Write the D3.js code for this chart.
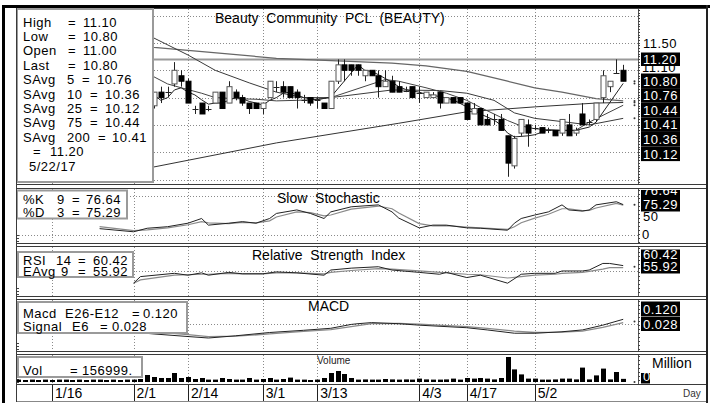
<!DOCTYPE html>
<html><head><meta charset="utf-8">
<script src="https://cdn.jsdelivr.net/npm/d3@7"></script>
<style>
html,body{margin:0;padding:0;background:#fff;}
svg{display:block;font-family:"Liberation Sans",Arial,sans-serif;}
text{white-space:pre;}
</style></head><body>
<svg id="c" width="713" height="405"></svg>
<script>
// ---------- DATA ----------
const dates = ["1/9","1/10","1/11","1/12","1/13","1/16","1/17","1/18","1/19","1/20","1/23","1/24","1/25","1/26","1/27","1/30","1/31",
"2/1","2/2","2/3","2/6","2/7","2/8","2/9","2/10","2/14","2/15","2/16","2/17","2/20","2/21","2/22","2/23","2/24","2/27","2/28",
"3/1","3/2","3/3","3/6","3/7","3/8","3/9","3/10","3/13","3/14","3/15","3/16","3/17","3/20","3/21","3/22","3/23","3/24","3/27","3/28","3/29","3/30","3/31",
"4/3","4/4","4/5","4/7","4/10","4/11","4/12","4/17","4/18","4/19","4/20","4/21","4/24","4/25","4/26","4/27","4/28",
"5/2","5/3","5/4","5/8","5/9","5/10","5/11","5/12","5/15","5/16","5/17","5/18","5/19","5/22"];
const tickDates = ["1/16","2/1","2/14","3/1","3/13","4/3","4/17","5/2"];

const open = [10.9,10.8,10.7,10.6,10.6,10.5,10.5,10.4,10.4,10.3,10.3,10.2,10.1,10.2,10.3,10.4,10.5,10.5,10.7,10.6,
10.35,10.6,10.6,10.75,10.9,10.8,10.3,10.4,10.3,10.4,
10.6,10.4,10.6,10.5,10.4,10.4,10.3,10.5,10.7,10.7,
10.7,10.6,10.45,10.5,10.45,10.4,10.3,10.8,11.1,11.1,
11.1,10.9,11.0,10.9,10.7,10.8,10.7,10.62,10.7,10.58,
10.5,10.5,10.6,10.4,10.5,10.5,10.4,10.2,10.3,10.1,
10.1,10.1,9.8,9.25,9.85,10.0,9.95,9.95,9.9,9.9,
9.85,10.0,9.85,10.2,10.05,10.1,10.5,10.7,10.95,11.0];
const high = [11.0,10.9,10.8,10.7,10.7,10.6,10.6,10.5,10.5,10.4,10.4,10.3,10.3,10.4,10.5,10.6,10.6,10.8,10.8,10.7,
10.6,10.7,10.7,11.15,11.0,10.85,10.35,10.4,10.35,10.6,
10.6,10.8,10.65,10.55,10.4,10.4,10.4,10.8,10.8,10.8,
10.7,10.65,10.55,10.5,10.5,10.4,10.8,11.2,11.2,11.1,
11.1,11.0,11.0,11.0,11.0,10.9,10.8,10.7,10.7,10.7,
10.6,10.6,10.6,10.5,10.5,10.5,10.4,10.4,10.3,10.2,
10.2,10.2,9.8,9.8,10.1,10.1,10.0,9.95,9.95,9.9,
10.1,10.2,9.95,10.4,10.1,10.4,11.0,10.8,11.2,11.1];
const low = [10.7,10.6,10.5,10.5,10.4,10.4,10.3,10.3,10.2,10.2,10.1,10.0,10.0,10.1,10.2,10.3,10.4,10.5,10.5,10.4,
10.3,10.4,10.5,10.7,10.7,10.4,10.2,10.2,10.25,10.4,
10.3,10.4,10.45,10.35,10.2,10.3,10.2,10.5,10.6,10.5,
10.5,10.3,10.4,10.35,10.3,10.3,10.3,10.75,10.8,10.9,
10.9,10.8,10.9,10.5,10.7,10.6,10.6,10.6,10.5,10.4,
10.5,10.5,10.3,10.4,10.4,10.4,10.1,10.2,10.0,10.0,
10.0,9.9,9.05,9.2,9.8,9.6,9.9,9.85,9.85,9.8,
9.8,9.8,9.8,10.0,10.0,10.05,10.4,10.6,10.95,10.8];
const close = [10.8,10.7,10.6,10.6,10.5,10.5,10.4,10.4,10.3,10.3,10.2,10.1,10.2,10.3,10.4,10.5,10.5,10.7,10.6,10.5,
10.6,10.5,10.6,11.0,10.8,10.4,10.3,10.2,10.3,10.6,
10.3,10.7,10.5,10.4,10.3,10.3,10.4,10.8,10.7,10.6,
10.5,10.5,10.45,10.4,10.45,10.3,10.8,11.1,11.0,11.0,
11.0,11.0,10.9,10.7,10.8,10.6,10.6,10.62,10.5,10.58,
10.6,10.55,10.4,10.5,10.4,10.4,10.1,10.3,10.0,10.0,
10.1,9.9,9.3,9.75,10.1,9.85,9.95,9.85,9.9,9.8,
10.1,9.8,9.9,10.0,10.05,10.4,10.9,10.8,10.95,10.8];
// volume in millions
const volume = [0.12,0.1,0.12,0.1,0.12,0.1,0.12,0.12,0.1,0.12,0.1,0.12,0.12,0.1,0.12,0.1,0.12,0.12,0.15,0.35,
0.25,0.2,0.2,0.45,0.2,0.25,0.15,0.2,0.12,0.12,
0.2,0.15,0.12,0.12,0.2,0.12,0.15,0.2,0.12,0.15,
0.22,0.12,0.12,0.1,0.12,0.2,0.45,0.55,0.4,0.2,
0.12,0.13,0.12,0.12,0.15,0.13,0.12,0.13,0.12,0.17,
0.13,0.12,0.12,0.13,0.17,0.12,0.2,0.17,0.2,0.17,
0.13,0.2,1.25,0.63,0.38,0.17,0.17,0.12,0.12,0.13,
0.17,0.17,0.13,0.72,0.13,0.33,0.67,0.13,0.5,0.157];

// moving averages: [date index, value]
const ma5 = [[19,10.6],[20,10.55],[21,10.45],[22,10.5],[23,10.64],[24,10.68],[25,10.6],[26,10.55],[27,10.46],[28,10.38],[29,10.4],[30,10.4],[31,10.45],[32,10.5],[33,10.48],[34,10.43],[35,10.4],[36,10.36],[37,10.45],[38,10.5],[39,10.58],[40,10.6],[41,10.55],[42,10.5],[44,10.46],[46,10.51],[50,11.1],[51,11.0],[52,10.98],[53,10.92],[54,10.85],[55,10.78],[56,10.7],[57,10.65],[58,10.62],[59,10.6],[60,10.56],[62,10.52],[64,10.46],[66,10.33],[68,10.2],[70,10.09],[71,10.0],[72,9.85],[73,9.78],[75,9.8],[76,9.82],[78,9.91],[80,9.9],[82,9.9],[84,9.96],[85,10.05],[89,10.76]];
const ma10 = [[19,10.95],[20,10.88],[22,10.75],[24,10.68],[27,10.58],[29,10.5],[32,10.48],[35,10.47],[38,10.44],[41,10.45],[43,10.46],[46,10.5],[54,10.83],[56,10.8],[60,10.68],[63,10.58],[66,10.45],[68,10.32],[70,10.2],[72,10.08],[74,9.98],[76,9.93],[79,9.9],[82,9.9],[84,10.05],[89,10.36]];
const ma25 = [[19,11.65],[20,11.59],[25,11.28],[29,11.0],[34,10.77],[38,10.6],[42,10.5],[46,10.5],[55,10.64],[62,10.63],[66,10.58],[70,10.45],[73,10.22],[76,10.12],[80,10.06],[84,10.0],[89,10.12]];
const ma75 = [[19,11.45],[20,11.42],[38,11.22],[55,11.13],[60,11.08],[66,10.98],[72,10.8],[76,10.68],[80,10.6],[85,10.48],[89,10.44]];
const ma200 = [[19,9.2],[20,9.23],[38,9.67],[56,10.03],[66,10.24],[76,10.33],[85,10.4],[89,10.41]];
const refLevel = 11.20;

const stochK = [[12,15],[17,7],[19,16],[22,20],[25,29],[27,41],[28,24],[31,29],[33,33],[35,29],[37,41],[38,54],[41,63],[43,54],[45,41],[46,58],[49,71],[53,76],[55,58],[56,42],[59,17],[61,24],[63,24],[66,17],[68,16],[72,11],[73,29],[74,41],[76,50],[78,58],[80,76],[81,63],[83,60],[84,63],[85,76],[88,84],[89,76.64]];
const stochD = [[12,20],[17,10],[19,12],[22,17],[25,25],[27,33],[28,30],[31,28],[33,31],[35,30],[37,35],[38,45],[41,58],[43,56],[45,48],[46,50],[49,65],[53,73],[55,66],[56,55],[59,28],[61,22],[63,23],[66,19],[68,17],[72,13],[73,20],[74,30],[76,42],[78,52],[80,66],[81,66],[83,61],[84,62],[85,68],[88,80],[89,75.29]];
const rsi = [[17,23],[18,37],[23,44],[25,40],[27,45],[28,40],[31,46],[33,43],[36,43],[38,47],[41,45],[45,40],[46,51],[49,55],[53,58],[55,51],[59,46],[62,42],[63,46],[66,35],[68,40],[72,23],[74,42],[76,44],[79,44],[80,49],[83,49],[84,51],[86,65],[87,65],[89,60.42]];
const rsiAvg = [[17,23],[18,30],[23,40],[25,41],[27,42],[28,42],[31,44],[33,43],[36,43],[38,45],[41,45],[45,43],[46,46],[49,50],[53,54],[55,53],[59,49],[62,46],[63,45],[66,42],[68,41],[72,34],[74,37],[76,40],[79,42],[80,44],[83,46],[84,48],[86,53],[87,56],[89,55.92]];
const macd = [[15,-0.2],[20,-0.28],[25,-0.35],[28,-0.39],[32,-0.33],[37,-0.24],[42,-0.18],[46,-0.125],[49,-0.02],[50,0.0],[52,0.03],[56,0.0],[59,-0.04],[66,-0.11],[69,-0.17],[73,-0.26],[76,-0.26],[80,-0.22],[83,-0.17],[86,-0.04],[89,0.12]];
const signal = [[15,-0.15],[20,-0.22],[25,-0.3],[28,-0.35],[32,-0.34],[37,-0.28],[42,-0.21],[46,-0.16],[49,-0.08],[50,-0.05],[52,0.0],[56,0.01],[59,-0.01],[66,-0.08],[69,-0.13],[73,-0.2],[76,-0.24],[80,-0.23],[83,-0.2],[86,-0.1],[89,0.028]];

const title = "Beauty  Community  PCL  (BEAUTY)";
const mainLegend = [["High","","=","11.10"],["Low","","=","10.80"],["Open","","=","11.00"],["Last","","=","10.80"],
  ["SAvg","5","=","10.76"],["SAvg","10","=","10.36"],["SAvg","25","=","10.12"],["SAvg","75","=","10.44"],["SAvg","200","=","10.41"],["","","=","11.20"]];
const legendDate = "5/22/17";
const priceAxisLabel = "11.50";
const priceHighLabel = "11.10";
const priceRefLabel = "11.20";
const priceStack = ["10.80","10.76","10.44","10.41","10.36","10.12"];
const markerValues = [10.80,10.76,10.44,10.41,10.36,10.12];

// ---------- LAYOUT ----------
const svg = d3.select("#c");
const XL = 16, XR = 638, XE = 707;
const P = {main:[8,185], stoch:[188,244], rsi:[246,297], macd:[299,352], vol:[354,385]};
const x = d3.scalePoint().domain(dates).range([18, 623.2]);
const xi = i => x(dates[i]);
const yP = d3.scaleLinear().domain([9, 11.5]).range([179.5, 43]);
const yS = d3.scaleLinear().domain([0, 100]).range([234.5, 195.5]);
const yR = d3.scaleLinear().domain([0, 100]).range([294, 247]);
const yM = d3.scaleLinear().domain([0, 0.12]).range([323.7, 319.3]);
const yV = d3.scaleLinear().domain([0, 1]).range([382, 362]);

const defs = svg.append("defs");
Object.entries(P).forEach(([k,[t,b]]) => {
  defs.append("clipPath").attr("id","cp-"+k).append("rect").attr("x",XL).attr("y",t).attr("width",XR-XL).attr("height",b-t);
});
defs.append("clipPath").attr("id","cl-stoch").append("rect").attr("x",XR).attr("y",190).attr("width",XE-XR).attr("height",54);
defs.append("clipPath").attr("id","cl-rsi").append("rect").attr("x",XR).attr("y",249.5).attr("width",XE-XR).attr("height",47);

svg.append("rect").attr("width",713).attr("height",405).attr("fill","#fff");

const FS = 13, LS = 0.5;   // legend / label font
function T(g, px, py, s, o={}) {
  const t = g.append("text").attr("x",px).attr("y",py).text(s)
    .attr("font-size",o.size||FS).attr("fill",o.fill||"#000").attr("text-anchor",o.anchor||"start");
  if (!o.size) t.attr("letter-spacing",LS);
  return t;
}
function L(g, py, parts) {
  const t = g.append("text").attr("y",py).attr("font-size",FS).attr("letter-spacing",LS).attr("fill","#000");
  parts.filter(p=>p[1]!=="").forEach(([px,s])=>t.append("tspan").attr("x",px).text(s));
  return t;
}
const dotted = sel => sel.attr("stroke","#8a8a8a").attr("stroke-width",1).attr("stroke-dasharray","1,2");

// panel frames + gridlines
Object.entries(P).forEach(([k,[t,b]]) => {
  const g = svg.append("g");
  g.append("rect").attr("x",XL+0.5).attr("y",t+0.5).attr("width",XE-XL-1).attr("height",b-t-1)
    .attr("fill","#fff").attr("stroke","#3a3a3a").attr("stroke-width",1);
  g.selectAll("line.v").data(tickDates).join("line")
    .attr("x1",d=>Math.round(x(d))+0.5).attr("x2",d=>Math.round(x(d))+0.5).attr("y1",t+1).attr("y2",b-1).call(dotted);
  g.append("line").attr("x1",XR+0.5).attr("x2",XR+0.5).attr("y1",t+1).attr("y2",b-1).attr("stroke","#555");
  const step = k==="main" ? 2.73 : 4;
  const ticks = d3.range(t+2, b-1, step);
  g.selectAll("line.t").data(ticks).join("line")
    .attr("x1",XR).attr("x2",XR+2).attr("y1",d=>Math.round(d)+0.5).attr("y2",d=>Math.round(d)+0.5).attr("stroke","#444");
  g.selectAll("line.l").data([b-9,b-6,b-3]).join("line")
    .attr("x1",XL).attr("x2",XL+3).attr("y1",d=>d+0.5).attr("y2",d=>d+0.5).attr("stroke","#444");
});

function hgrid(vals, scale, clip) {
  svg.append("g").attr("clip-path",`url(#cp-${clip})`).selectAll("line").data(vals).join("line")
    .attr("x1",XL).attr("x2",XR).attr("y1",d=>Math.round(scale(d))+0.5).attr("y2",d=>Math.round(scale(d))+0.5).call(dotted);
}
hgrid(d3.range(9, 12.01, 0.5), yP, "main");
hgrid([0,100], yS, "stoch");
hgrid([50], yR, "rsi");
hgrid([0], yM, "macd");

// ---------- MAIN PANEL ----------
const gm = svg.append("g").attr("clip-path","url(#cp-main)");
gm.append("line").attr("x1",XL).attr("x2",XR).attr("y1",yP(refLevel)).attr("y2",yP(refLevel))
  .attr("stroke","#9a9a9a").attr("stroke-width",2);
const lineP = d3.line().x(d=>xi(d[0])).y(d=>yP(d[1]));
[[ma200,"#333",1],[ma75,"#666",1.3],[ma25,"#3a3a3a",1],[ma10,"#444",1],[ma5,"#222",1]].forEach(([s,c,w])=>{
  gm.append("path").attr("d",lineP(s)).attr("fill","none").attr("stroke",c).attr("stroke-width",w);
});
const idx = d3.range(dates.length);
gm.selectAll("line.wick").data(idx).join("line")
  .attr("x1",i=>Math.round(xi(i))+0.5).attr("x2",i=>Math.round(xi(i))+0.5)
  .attr("y1",i=>yP(high[i])).attr("y2",i=>yP(low[i])).attr("stroke","#222");
gm.selectAll("rect.body").data(idx.filter(i=>Math.abs(close[i]-open[i])>0.001)).join("rect")
  .attr("x",i=>Math.round(xi(i))-2).attr("width",5)
  .attr("y",i=>yP(Math.max(open[i],close[i]))).attr("height",i=>Math.abs(yP(open[i])-yP(close[i])))
  .attr("fill",i=>close[i]<open[i]?"#000":"#fff").attr("stroke",i=>close[i]<open[i]?"#000":"#555").attr("stroke-width",1);
gm.selectAll("line.doji").data(idx.filter(i=>Math.abs(close[i]-open[i])<=0.001)).join("line")
  .attr("x1",i=>Math.round(xi(i))-2.5).attr("x2",i=>Math.round(xi(i))+3.5)
  .attr("y1",i=>Math.round(yP(close[i]))+0.5).attr("y2",i=>Math.round(yP(close[i]))+0.5).attr("stroke","#222");

T(svg, 215, 23, title, {size:14});

// main legend
svg.append("rect").attr("x",17).attr("y",9).attr("width",136).attr("height",173)
  .attr("fill","#fff").attr("stroke","#9a9a9a").attr("stroke-width",2);
const eqX = [68,68,68,68,82,90,90,90,98,33];
const valX = [83,83,83,83,97,105,105,105,112,50];
mainLegend.forEach((r,k)=>{
  L(svg, 26.5 + k*14.4, [[23,r[0]],[67,r[1]],[eqX[k],r[2]],[valX[k],r[3]]]);
});
T(svg, 29, 26.5 + 10*14.4, legendDate);

// main right labels
T(svg, 643, 48, priceAxisLabel);
T(svg, 642, 72, priceHighLabel);
function box(g, y0, h, s, w=39) {
  g.append("rect").attr("x",641).attr("y",y0).attr("width",w).attr("height",h).attr("fill","#000");
  T(g, 643, y0+h-2.5, s, {fill:"#fff"});
}
box(svg, 52.5, 13.5, priceRefLabel);
priceStack.forEach((s,k)=>box(svg, 73.5 + k*14.6, 14.6, s));
svg.selectAll("circle.mk").data(markerValues).join("circle")
  .attr("cx",634.5).attr("cy",d=>yP(d)).attr("r",1).attr("fill","#333");

// ---------- STOCHASTIC ----------
const lineS = d3.line().x(d=>xi(d[0])).y(d=>yS(d[1]));
const gs = svg.append("g").attr("clip-path","url(#cp-stoch)");
gs.append("path").attr("d",lineS(stochD)).attr("fill","none").attr("stroke","#8a8a8a").attr("stroke-width",1.2);
gs.append("path").attr("d",lineS(stochK)).attr("fill","none").attr("stroke","#222").attr("stroke-width",1);
T(svg, 277, 203, "Slow  Stochastic", {size:14});
svg.append("rect").attr("x",17).attr("y",190.5).attr("width",110).attr("height",28)
  .attr("fill","#fff").attr("stroke","#9a9a9a").attr("stroke-width",2);
L(svg, 204, [[23,"%K"],[57,"9"],[72,"="],[86,"76.64"]]);
L(svg, 216.5, [[23,"%D"],[57,"3"],[72,"="],[86,"75.29"]]);
const gsl = svg.append("g").attr("clip-path","url(#cl-stoch)");
box(gsl, 182.5, 14.5, "76.64");
T(gsl, 643, 220.5, "50");
box(gsl, 197, 14.5, "75.29");
T(svg, 642, 239, "0");
svg.append("circle").attr("cx",634.5).attr("cy",yS(76)).attr("r",1).attr("fill","#333");

// ---------- RSI ----------
const lineR = d3.line().x(d=>xi(d[0])).y(d=>yR(d[1]));
const gr = svg.append("g").attr("clip-path","url(#cp-rsi)");
gr.append("path").attr("d",lineR(rsiAvg)).attr("fill","none").attr("stroke","#8a8a8a").attr("stroke-width",1.2);
gr.append("path").attr("d",lineR(rsi)).attr("fill","none").attr("stroke","#222").attr("stroke-width",1);
T(svg, 252, 260, "Relative  Strength  Index", {size:14});
svg.append("rect").attr("x",18).attr("y",252).attr("width",115).attr("height",25)
  .attr("fill","#fff").attr("stroke","#9a9a9a").attr("stroke-width",2);
L(svg, 264.5, [[23,"RSI"],[56,"14"],[78,"="],[93,"60.42"]]);
L(svg, 275.5, [[23,"EAvg"],[61,"9"],[78,"="],[93,"55.92"]]);
const grl = svg.append("g").attr("clip-path","url(#cl-rsi)");
box(grl, 246.5, 14.5, "60.42");
box(grl, 261, 12.5, "55.92");
svg.append("circle").attr("cx",634.5).attr("cy",yR(58)).attr("r",1).attr("fill","#333");

// ---------- MACD ----------
const lineM = d3.line().x(d=>xi(d[0])).y(d=>yM(d[1]));
const gmc = svg.append("g").attr("clip-path","url(#cp-macd)");
gmc.append("path").attr("d",lineM(signal)).attr("fill","none").attr("stroke","#8a8a8a").attr("stroke-width",1.3);
gmc.append("path").attr("d",lineM(macd)).attr("fill","none").attr("stroke","#222").attr("stroke-width",1);
T(svg, 308, 311, "MACD", {size:14});
svg.append("rect").attr("x",18).attr("y",302).attr("width",169).attr("height",31)
  .attr("fill","#fff").attr("stroke","#9a9a9a").attr("stroke-width",2);
L(svg, 317.5, [[23,"Macd"],[65,"E26-E12"],[132,"="],[143,"0.120"]]);
L(svg, 330.5, [[23,"Signal"],[72,"E6"],[100,"="],[112,"0.028"]]);
box(svg, 301.5, 14.5, "0.120");
box(svg, 316.5, 14.5, "0.028");
svg.append("circle").attr("cx",634.5).attr("cy",yM(0.06)).attr("r",1).attr("fill","#333");

// ---------- VOLUME ----------
const gv = svg.append("g").attr("clip-path","url(#cp-vol)");
gv.selectAll("rect").data(idx).join("rect")
  .attr("x",i=>Math.round(xi(i))-2).attr("width",5)
  .attr("y",i=>yV(volume[i])).attr("height",i=>yV(0)-yV(volume[i])).attr("fill","#000");
T(svg, 317, 364, "Volume", {size:10, fill:"#222"});
svg.append("rect").attr("x",18).attr("y",357).attr("width",124).attr("height",20)
  .attr("fill","#fff").attr("stroke","#9a9a9a").attr("stroke-width",2);
L(svg, 375, [[23,"Vol"],[70,"="],[82,"156999."]]);
T(svg, 652, 368, "Million", {size:14});
box(svg, 373, 10.5, "0", 9);
svg.append("circle").attr("cx",634.5).attr("cy",yV(0)).attr("r",1).attr("fill","#333");

// ---------- DATE AXIS ----------
const ga = svg.append("g");
ga.selectAll("line").data(tickDates).join("line")
  .attr("x1",d=>Math.round(x(d))+0.5).attr("x2",d=>Math.round(x(d))+0.5).attr("y1",385).attr("y2",401).attr("stroke","#222");
ga.selectAll("text").data(tickDates).join("text")
  .attr("x",d=>x(d)+3).attr("y",398).text(d=>d).attr("font-size",14).attr("fill","#000");
T(svg, 683, 397, "Day", {size:10, fill:"#333"});

// ---------- OUTER FRAME ----------
svg.append("line").attr("x1",XL).attr("x2",XE).attr("y1",401.5).attr("y2",401.5).attr("stroke","#888");
svg.append("rect").attr("x",2).attr("y",5).attr("width",708).attr("height",3).attr("fill","#000");
svg.append("rect").attr("x",2).attr("y",5).attr("width",3).attr("height",398).attr("fill","#000");
svg.append("rect").attr("x",706).attr("y",5).attr("width",2).attr("height",398).attr("fill","#222");
svg.append("line").attr("x1",XL+0.5).attr("x2",XL+0.5).attr("y1",8).attr("y2",402).attr("stroke","#3a3a3a");
</script>
</body></html>
